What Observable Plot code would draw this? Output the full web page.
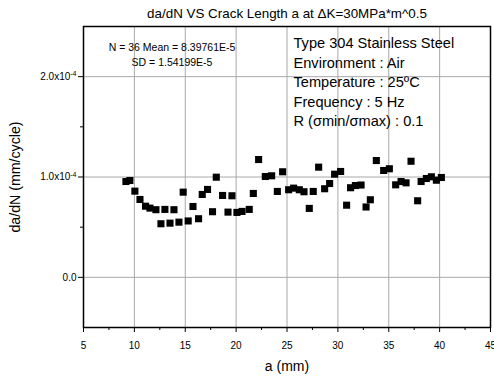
<!DOCTYPE html>
<html>
<head>
<meta charset="utf-8">
<script src="https://cdn.jsdelivr.net/npm/d3@7"></script>
<script src="https://cdn.jsdelivr.net/npm/@observablehq/plot@0.6"></script>
<style>
  html, body { margin: 0; padding: 0; background: white; }
</style>
</head>
<body>
<div id="chart"></div>
<script>
// Crack length a (mm)
const crackLength = [
  9.17, 9.56, 10.05, 10.55, 11.10, 11.53, 12.12, 12.61, 13.00, 13.50,
  13.89, 14.38, 14.80, 15.29, 15.76, 16.31, 16.67, 17.19, 17.68, 18.05,
  18.67, 19.20, 19.59, 20.08, 20.58, 21.29, 21.69, 22.21, 22.87, 23.49,
  24.05, 24.57, 25.16, 25.65, 26.21, 26.67, 27.19, 27.58, 28.11, 28.70,
  29.19, 29.68, 30.27, 30.86, 31.25, 31.72, 32.28, 32.77, 33.19, 33.78,
  34.50, 35.06, 35.68, 36.21, 36.70, 37.19, 37.84, 38.18, 38.70, 39.19,
  39.68, 40.17
];
// da/dN in units of 1e-4 mm/cycle
const dadnE4 = [
  0.955, 0.965, 0.859, 0.776, 0.709, 0.690, 0.674, 0.534, 0.677, 0.540,
  0.674, 0.550, 0.849, 0.562, 0.706, 0.584, 0.826, 0.876, 0.654, 0.998,
  0.816, 0.650, 0.813, 0.647, 0.657, 0.677, 0.836, 1.174, 1.005, 1.012,
  0.856, 1.052, 0.873, 0.889, 0.873, 0.853, 0.687, 0.856, 1.098, 0.883,
  0.935, 1.028, 1.055, 0.719, 0.893, 0.915, 0.920, 0.701, 0.773, 1.164,
  1.065, 1.082, 0.922, 0.955, 0.942, 1.157, 0.763, 0.955, 0.985, 1.002,
  0.968, 0.995
];

const xTicks = [5, 10, 15, 20, 25, 30, 35, 40, 45];
const xMinorTicks = [7.5, 12.5, 17.5, 22.5, 27.5, 32.5, 37.5, 42.5];
const xGrid = [10, 15, 20, 25, 30, 35, 40];
const yTicks = [0, 1e-4, 2e-4];
const yMinorTicks = [0.5e-4, 1.5e-4];
const yGrid = [0, 1e-4, 2e-4];

const titleText = "da/dN VS Crack Length a at \u0394K=30MPa*m^0.5";
const xLabel = "a (mm)";
const yLabel = "da/dN (mm/cycle)";
const statLines = ["N = 36 Mean = 8.39761E-5", "SD = 1.54199E-5"];
const infoLines = [
  "Type 304 Stainless Steel",
  "Environment : Air",
  "Temperature : 25\u00BAC",
  "Frequency : 5 Hz",
  "R (\u03C3min/\u03C3max) : 0.1"
];

const data = crackLength.map((a, i) => ({a, v: dadnE4[i] * 1e-4}));

const font = "'Liberation Sans', Arial, Helvetica, sans-serif";

const infoMarks = infoLines.map((t, i) => Plot.text([t], {
  frameAnchor: "top-left", textAnchor: "start", lineAnchor: "middle",
  dx: 210, dy: 17 + i * 19.5, fontSize: 14.6, fill: "black"
}));
const statMarks = statLines.map((t, i) => Plot.text([t], {
  frameAnchor: "top-left", textAnchor: "middle", lineAnchor: "middle",
  dx: 88.5, dy: 21 + i * 15, fontSize: 10.5, fill: "black"
}));

const chart = Plot.plot({
  width: 494,
  height: 378,
  marginLeft: 83,
  marginRight: 4,
  marginTop: 26,
  marginBottom: 51,
  style: {fontFamily: font, fontSize: "10px", background: "white", color: "black", overflow: "visible"},
  x: {domain: [5, 45]},
  y: {domain: [-0.5e-4, 2.5e-4]},
  marks: [
    Plot.gridX(xGrid, {stroke: "#a9a9a9", strokeOpacity: 1, strokeWidth: 1}),
    Plot.gridY(yGrid, {stroke: "#a9a9a9", strokeOpacity: 1, strokeWidth: 1}),
    Plot.axisX(xTicks, {tickSize: 5, tickPadding: 9, label: null, tickFormat: d => String(d), fontSize: 10, stroke: "black"}),
    Plot.axisX(xMinorTicks, {tickSize: 3, label: null, tickFormat: () => "", stroke: "black"}),
    Plot.axisY(yTicks, {tickSize: 5, tickPadding: 2, label: null,
      tickFormat: d => d === 0 ? "0.0" : (d / 1e-4).toFixed(1) + "x10|-4", fontSize: 10, stroke: "black"}),
    Plot.axisY(yMinorTicks, {tickSize: 3, label: null, tickFormat: () => "", stroke: "black"}),
    Plot.frame({stroke: "black", strokeWidth: 1.5}),
    Plot.dot(data, {x: "a", y: "v", symbol: "square", r: 4, fill: "black", stroke: "none"}),
    ...statMarks,
    ...infoMarks,
    Plot.text([titleText], {frameAnchor: "top", lineAnchor: "middle", dy: -13, fontSize: 13.4, fill: "black"}),
    Plot.text([xLabel], {frameAnchor: "bottom", lineAnchor: "middle", dy: 39, fontSize: 14, fill: "black"}),
    Plot.text([yLabel], {frameAnchor: "left", textAnchor: "middle", lineAnchor: "middle", rotate: -90, dx: -68, fontSize: 14.2, fill: "black"})
  ]
});

// Render superscript exponents on y tick labels
d3.select(chart).selectAll("text").each(function() {
  const el = d3.select(this);
  const txt = el.text();
  if (txt.includes("|")) {
    const [base, exp] = txt.split("|");
    el.text(null);
    el.append("tspan").text(base);
    el.append("tspan").attr("dy", "-0.5em").attr("font-size", "7px").text(exp);
  }
});

document.getElementById("chart").appendChild(chart);
</script>
</body>
</html>
